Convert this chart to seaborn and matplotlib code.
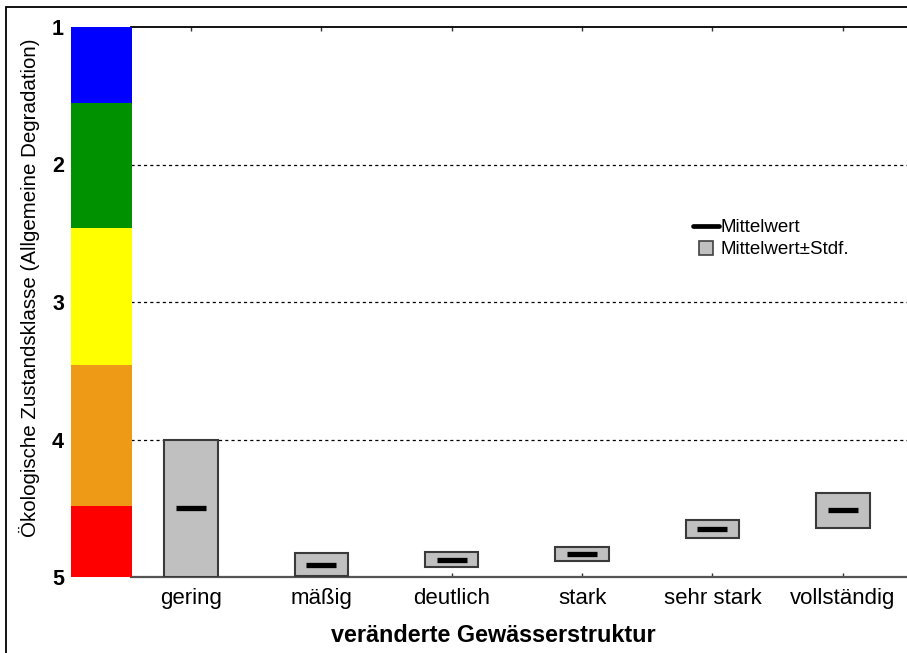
import numpy as np
import pandas as pd
import matplotlib
matplotlib.use("Agg")
import matplotlib.pyplot as plt
from matplotlib.lines import Line2D
from matplotlib.patches import Rectangle
import seaborn as sns

# ---- data ----
categories = ["gering", "mäßig", "deutlich", "stark", "sehr stark", "vollständig"]
means = [4.50, 4.91, 4.873, 4.833, 4.65, 4.515]
stdevs = [0.50, 0.085, 0.052, 0.052, 0.065, 0.128]

class_bounds = [1.0, 1.55, 2.46, 3.46, 4.48, 5.0]
class_colors = ["#0000ff", "#009100", "#ffff00", "#ee9a16", "#ff0000"]
y_ticks = [1, 2, 3, 4, 5]
grid_levels = [2, 3, 4]

sns.set_style("white")
plt.rcParams["font.family"] = ["Liberation Sans", "DejaVu Sans"]
plt.rcParams["text.color"] = "black"
plt.rcParams["xtick.labelcolor"] = "black"
plt.rcParams["ytick.labelcolor"] = "black"

W, H = 907, 653
fig = plt.figure(figsize=(W / 100, H / 100), dpi=100)

def fx(px):
    return px / W

def fy(py):
    return 1 - py / H

top_px, bot_px = 27, 577
ax = fig.add_axes([fx(131), fy(bot_px), fx(908) - fx(131), fy(top_px) - fy(bot_px)])
axc = fig.add_axes([fx(71), fy(bot_px), fx(132) - fx(71), fy(top_px) - fy(bot_px)])

df = pd.DataFrame({"cat": categories, "mean": means, "sd": stdevs})
df["x"] = np.arange(len(df))
df["low"] = df["mean"] - df["sd"]

# boxes mean +- sd
ax.bar(df["x"], 2 * df["sd"], bottom=df["low"], width=0.41,
       color="#c0c0c0", edgecolor="#3a3a3a", linewidth=1.5, zorder=3)
# mean markers
sns.scatterplot(data=df, x="x", y="mean", marker="_", s=440, linewidth=3.8,
                color="black", ax=ax, zorder=4, legend=False)

ax.set_ylim(5, 1)
ax.set_xlim(-0.46, 5.5)
ax.set_yticks(grid_levels)
ax.set_yticklabels([])
ax.tick_params(axis="y", length=0)
ax.yaxis.grid(True, linestyle=(0, (2.5, 2.5)), color="black", linewidth=0.9)
ax.set_xticks(df["x"])
ax.set_xticklabels(categories, fontsize=16, color="black")
ax.tick_params(axis="x", direction="in", length=3, width=1, color="#333333",
               top=True, bottom=True, pad=8)
ax.set_xlabel("")
ax.set_ylabel("")
for s in ["left", "right"]:
    ax.spines[s].set_visible(False)
ax.spines["top"].set_color("black")
ax.spines["top"].set_linewidth(1.3)
ax.spines["bottom"].set_color("#555555")
ax.spines["bottom"].set_linewidth(1.6)

# colour scale bar
bottoms = class_bounds[:-1]
heights = np.diff(class_bounds)
axc.bar([0] * len(bottoms), heights, bottom=bottoms, width=1.0,
        color=class_colors, linewidth=0)
axc.set_xlim(-0.5, 0.5)
axc.set_ylim(5, 1)
axc.set_xticks([])
axc.set_yticks(y_ticks)
axc.set_yticklabels([str(t) for t in y_ticks], fontsize=15.5, fontweight="bold",
                    color="black")
axc.tick_params(axis="y", length=0, pad=5)
for s in axc.spines.values():
    s.set_visible(False)

fig.text(fx(29), fy(288), "Ökologische Zustandsklasse (Allgemeine Degradation)",
         rotation=90, ha="center", va="center", fontsize=14.8, color="black")
fig.text(fx(493), fy(635), "veränderte Gewässerstruktur",
         ha="center", va="center", fontsize=16.8, fontweight="bold", color="black")

handles = [
    Line2D([], [], color="black", linewidth=3.4),
    Line2D([], [], linestyle="none", marker="s", markersize=10,
           markerfacecolor="#c0c0c0", markeredgecolor="#404040", markeredgewidth=1.2),
]
fig.legend(handles, ["Mittelwert", "Mittelwert±Stdf."], loc="upper left",
           bbox_to_anchor=(fx(693), fy(219)), frameon=False, fontsize=13.5,
           handlelength=1.4, handletextpad=0.05, labelspacing=0.28,
           borderpad=0, borderaxespad=0)

# figure border
fig.patches.append(Rectangle((fx(6), -0.1), 1.2, fy(7) + 0.1, transform=fig.transFigure,
                             fill=False, edgecolor="black", linewidth=1.3))

fig.savefig("out.png", dpi=100)
